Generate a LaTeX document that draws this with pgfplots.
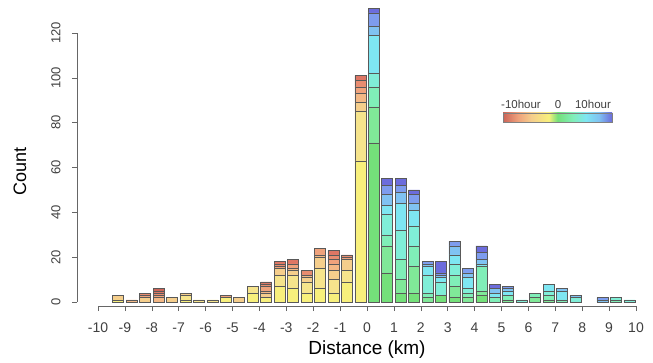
\documentclass[border=0pt]{standalone}
\usepackage{fontspec}
\setmainfont{Liberation Sans}
\usepackage{pgfplots}
\usepackage{pgfplotstable}
\pgfplotsset{compat=1.18}

\definecolor{cN1}{HTML}{F8F07C}
\definecolor{cN2}{HTML}{F6E48C}
\definecolor{cN3}{HTML}{F5CE8C}
\definecolor{cN4}{HTML}{F3B886}
\definecolor{cN5}{HTML}{EFA27C}
\definecolor{cN6}{HTML}{E88C70}
\definecolor{cN7}{HTML}{DE7664}
\definecolor{cN8}{HTML}{CC6458}
\definecolor{cP1}{HTML}{74E07A}
\definecolor{cP2}{HTML}{80E898}
\definecolor{cP3}{HTML}{80EEB8}
\definecolor{cP4}{HTML}{80EED8}
\definecolor{cP5}{HTML}{7EE6F2}
\definecolor{cP6}{HTML}{80C2F2}
\definecolor{cP7}{HTML}{7E9CEE}
\definecolor{cP8}{HTML}{6C6CDC}
\colorlet{edge}{black!65}

\pgfdeclarehorizontalshading{timebar}{100bp}{
 color(0bp)=(cN8); color(25bp)=(cN8); color(32bp)=(cN5); color(38bp)=(cN3);
 color(46bp)=(cN1); color(50bp)=(cP1); color(57bp)=(cP3); color(63bp)=(cP5);
 color(69bp)=(cP6); color(75bp)=(cP8); color(100bp)=(cP8)}

\pgfplotstableread{
x N1 N2 N3 N4 N5 N6 N7 N8 P1 P2 P3 P4 P5 P6 P7 P8
-9.75 0 0 0 0 0 0 0 0 0 0 0 0 0 0 0 0
-9.25 1 0 2 0 0 0 0 0 0 0 0 0 0 0 0 0
-8.75 0 0 0 1 0 0 0 0 0 0 0 0 0 0 0 0
-8.25 0 0 2 0 1 1 0 0 0 0 0 0 0 0 0 0
-7.75 0 0 0 2 1 1 1 1 0 0 0 0 0 0 0 0
-7.25 0 0 2 0 0 0 0 0 0 0 0 0 0 0 0 0
-6.75 1 2 1 0 0 0 0 0 0 0 0 0 0 0 0 0
-6.25 0 1 0 0 0 0 0 0 0 0 0 0 0 0 0 0
-5.75 0 1 0 0 0 0 0 0 0 0 0 0 0 0 0 0
-5.25 2 0 0 0 1 0 0 0 0 0 0 0 0 0 0 0
-4.75 0 0 2 0 0 0 0 0 0 0 0 0 0 0 0 0
-4.25 4 3 0 0 0 0 0 0 0 0 0 0 0 0 0 0
-3.75 2 0 2 1 2 1 1 0 0 0 0 0 0 0 0 0
-3.25 7 5 3 0 1 1 1 0 0 0 0 0 0 0 0 0
-2.75 6 6 2 1 2 0 2 0 0 0 0 0 0 0 0 0
-2.25 4 5 2 1 0 2 0 0 0 0 0 0 0 0 0 0
-1.75 6 9 5 1 3 0 0 0 0 0 0 0 0 0 0 0
-1.25 4 6 4 3 2 2 2 0 0 0 0 0 0 0 0 0
-0.75 9 5 5 0 1 1 0 0 0 0 0 0 0 0 0 0
-0.25 63 22 4 4 3 3 2 0 0 0 0 0 0 0 0 0
0.25 0 0 0 0 0 0 0 0 71 16 9 6 17 4 6 2
0.75 0 0 0 0 0 0 0 0 13 12 5 9 4 5 4 3
1.25 0 0 0 0 0 0 0 0 4 6 9 13 12 5 3 3
1.75 0 0 0 0 0 0 0 0 4 12 9 9 7 3 4 2
2.25 0 0 0 0 0 0 0 0 0 2 2 8 4 1 1 0
2.75 0 0 0 0 0 0 0 0 3 0 0 6 2 1 1 5
3.25 0 0 0 0 0 0 0 0 2 5 5 5 4 4 2 0
3.75 0 0 0 0 0 0 0 0 0 2 2 2 5 2 2 0
4.25 0 0 0 0 0 0 0 0 3 2 11 0 1 2 3 3
4.75 0 0 0 0 0 0 0 0 0 0 2 0 2 2 0 2
5.25 0 0 0 0 0 0 0 0 0 1 2 0 2 1 1 0
5.75 0 0 0 0 0 0 0 0 0 0 0 1 0 0 0 0
6.25 0 0 0 0 0 0 0 0 0 2 2 0 0 0 0 0
6.75 0 0 0 0 0 0 0 0 0 1 2 2 3 0 0 0
7.25 0 0 0 0 0 0 0 0 0 0 1 0 4 1 0 0
7.75 0 0 0 0 0 0 0 0 0 0 0 2 0 1 0 0
8.25 0 0 0 0 0 0 0 0 0 0 0 0 0 0 0 0
8.75 0 0 0 0 0 0 0 0 0 0 0 0 0 1 1 0
9.25 0 0 0 0 0 0 0 0 0 0 1 1 0 0 0 0
9.75 0 0 0 0 0 0 0 0 0 0 0 1 0 0 0 0
}\data

\begin{document}
\begin{tikzpicture}
\useasboundingbox (0,0) rectangle (653pt,362pt);
\begin{axis}[
  scale only axis, width=538pt, height=295.9pt,
  at={(98pt,60pt)}, anchor=south west,
  xmin=-10, xmax=10, ymin=0, ymax=132,
  clip=false,
  ybar stacked, bar width=0.41,
  axis x line*=bottom, axis y line*=left,
  axis x line shift=4pt, axis y line shift=21pt,
  x axis line style={draw=black!60, line width=0.6pt, -},
  y axis line style={draw=none, -},
  xtick={-10,-9,...,10}, ytick={0,20,...,120},
  minor tick num=0,
  tick align=outside, major tick length=5pt,
  tick style={black!60, line width=0.6pt},
  /pgf/number format/assume math mode=true,
  xticklabel style={font=\fontsize{14}{16}\selectfont, text=black!75, yshift=-8pt},
  yticklabel style={xshift=-8pt, rotate=90, anchor=south, font=\fontsize{13}{15}\selectfont, text=black!75},
  xlabel={Distance (km)},
  every axis x label/.style={at={(axis description cs:0.5,0)}, anchor=center, yshift=-48pt, font=\fontsize{19}{21}\selectfont},
  ylabel={Count},
  every axis y label/.style={at={(axis description cs:-0.145,0.44)}, anchor=center, rotate=90, font=\fontsize{18}{20}\selectfont},
]
\addplot[draw=edge, line width=0.5pt, fill=cN1] table[x=x,y=N1]{\data};
\addplot[draw=edge, line width=0.5pt, fill=cN2] table[x=x,y=N2]{\data};
\addplot[draw=edge, line width=0.5pt, fill=cN3] table[x=x,y=N3]{\data};
\addplot[draw=edge, line width=0.5pt, fill=cN4] table[x=x,y=N4]{\data};
\addplot[draw=edge, line width=0.5pt, fill=cN5] table[x=x,y=N5]{\data};
\addplot[draw=edge, line width=0.5pt, fill=cN6] table[x=x,y=N6]{\data};
\addplot[draw=edge, line width=0.5pt, fill=cN7] table[x=x,y=N7]{\data};
\addplot[draw=edge, line width=0.5pt, fill=cN8] table[x=x,y=N8]{\data};
\addplot[draw=edge, line width=0.5pt, fill=cP1] table[x=x,y=P1]{\data};
\addplot[draw=edge, line width=0.5pt, fill=cP2] table[x=x,y=P2]{\data};
\addplot[draw=edge, line width=0.5pt, fill=cP3] table[x=x,y=P3]{\data};
\addplot[draw=edge, line width=0.5pt, fill=cP4] table[x=x,y=P4]{\data};
\addplot[draw=edge, line width=0.5pt, fill=cP5] table[x=x,y=P5]{\data};
\addplot[draw=edge, line width=0.5pt, fill=cP6] table[x=x,y=P6]{\data};
\addplot[draw=edge, line width=0.5pt, fill=cP7] table[x=x,y=P7]{\data};
\addplot[draw=edge, line width=0.5pt, fill=cP8] table[x=x,y=P8]{\data};
\coordinate (ybot) at (axis cs:-10,0);
\coordinate (ytop) at (axis cs:-10,120);
\end{axis}
\draw[black!60, line width=0.6pt] ([xshift=-21pt]ybot) -- ([xshift=-21pt]ytop);
\shade[shading=timebar, draw=black!50, line width=0.4pt] (503pt,240pt) rectangle (612pt,249pt);
\begin{scope}[font=\fontsize{11.5}{13}\selectfont, text=black!75]
\node[anchor=base] at (521pt,253pt) {-10hour};
\node[anchor=base] at (558pt,253pt) {0};
\node[anchor=base] at (593pt,253pt) {10hour};
\end{scope}
\end{tikzpicture}
\end{document}
